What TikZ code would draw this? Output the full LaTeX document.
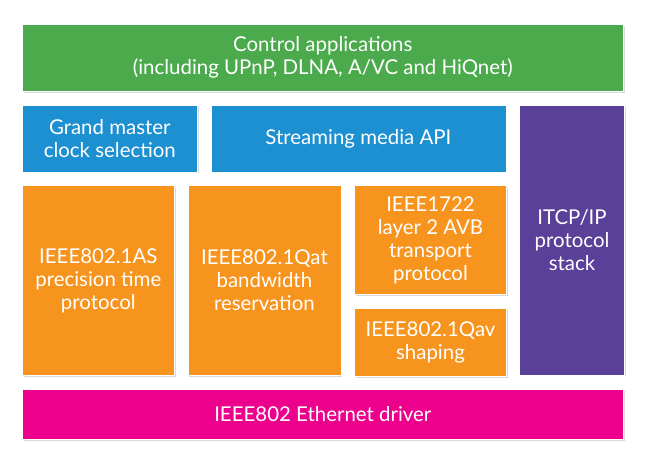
\documentclass[tikz,border=0pt]{standalone}
\usepackage{fontspec}
\setmainfont{Lato}
\usetikzlibrary{positioning,shadows}

\definecolor{appgreen}{RGB}{74,170,76}
\definecolor{apiblue}{RGB}{29,144,209}
\definecolor{avborange}{RGB}{247,148,30}
\definecolor{ippurple}{RGB}{90,64,152}
\definecolor{ethmagenta}{RGB}{236,0,140}

\begin{document}
\begin{tikzpicture}[
  x=1bp,y=-1bp,
  layer box/.style={
    draw=white,
    line width=0.6bp,
    align=center,
    text=white,
    inner sep=0pt,
    font=\fontsize{20.5}{23}\selectfont,
    drop shadow={shadow xshift=1.5bp,shadow yshift=-1.5bp,opacity=0.3},
  },
  app box/.style={layer box,fill=appgreen,minimum width=601bp,minimum height=67bp},
  api box/.style={layer box,fill=apiblue,minimum height=67bp},
  avb box/.style={layer box,fill=avborange,minimum width=152bp},
  ]
  \useasboundingbox (0,0) rectangle (649,466);
  \node[app box,anchor=north west] (ctrl-app) at (22,24)
    {Control applications\\(including UPnP, DLNA, A/VC and HiQnet)};
  \node[api box,minimum width=175bp,below right=13bp and 0bp of ctrl-app.south west]
    (gm-clock) {Grand master\\clock selection};
  \node[api box,minimum width=295bp,right=13bp of gm-clock] (stream-api) {Streaming media API};
  \node[layer box,fill=ippurple,minimum width=105bp,minimum height=270bp,
    below right=0bp and 13bp of stream-api.north east] (ip-stack) {ITCP/IP\\protocol\\stack};
  \node[avb box,minimum height=190bp,below right=13bp and 0bp of gm-clock.south west]
    (as-ptp) {IEEE802.1AS\\precision time\\protocol};
  \node[avb box,minimum width=153bp,minimum height=190bp,right=13bp of as-ptp]
    (qat-bw) {IEEE802.1Qat\\bandwidth\\reservation};
  \node[avb box,minimum height=109bp,below right=0bp and 13bp of qat-bw.north east]
    (avb-tp) {IEEE1722\\layer 2 AVB\\transport\\protocol};
  \node[avb box,minimum height=68bp,below=13bp of avb-tp] (qav-sh) {IEEE802.1Qav\\shaping};
  \node[layer box,fill=ethmagenta,minimum width=601bp,minimum height=50bp,
    below right=13bp and 0bp of as-ptp.south west] (eth-drv) {IEEE802 Ethernet driver};
\end{tikzpicture}
\end{document}
